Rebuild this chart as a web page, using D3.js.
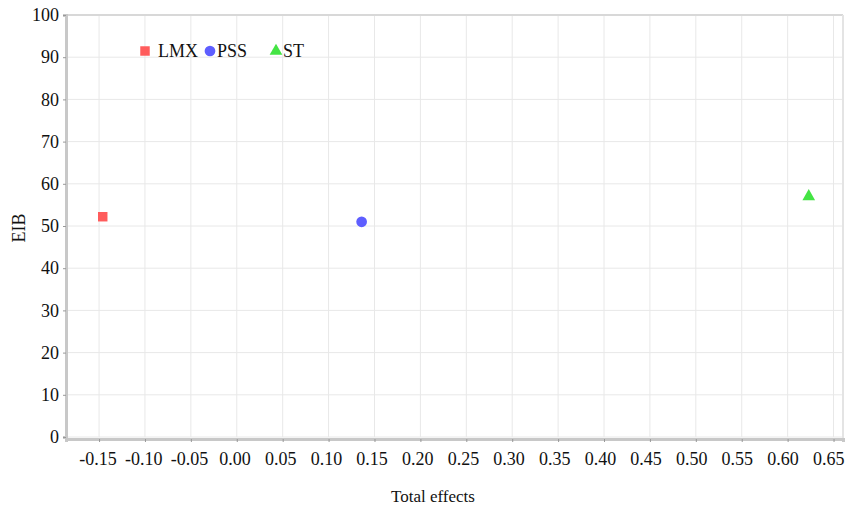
<!DOCTYPE html>
<html>
<head>
<meta charset="utf-8">
<script src="https://cdn.jsdelivr.net/npm/d3@7"></script>
<style>
  body { margin: 0; background: #fff; }
</style>
</head>
<body>
<script>
// data
const series = ["LMX", "PSS", "ST"];
const totalEffects = [-0.146, 0.136, 0.623];
const eib = [52.2, 51.0, 57.0];
const colors = ["#ff5c5c", "#5e5eff", "#44e444"];
const shapes = [d3.symbolSquare, d3.symbolCircle, d3.symbolTriangle];
const xTicks = [-0.15, -0.10, -0.05, 0.00, 0.05, 0.10, 0.15, 0.20, 0.25, 0.30, 0.35, 0.40, 0.45, 0.50, 0.55, 0.60, 0.65];
const yTicks = [0, 10, 20, 30, 40, 50, 60, 70, 80, 90, 100];

const serif = "'Liberation Serif', 'Times New Roman', Times, 'DejaVu Serif', serif";

// dimensions
const dms = { width: 847, height: 508, left: 66, right: 843, top: 15, bottom: 437 };

const svg = d3.select("body").append("svg")
    .attr("width", dms.width)
    .attr("height", dms.height)
    .style("font-family", serif);

// scales
const x = d3.scaleLinear().domain([-0.186, 0.6603]).range([dms.left, dms.right]);
const y = d3.scaleLinear().domain([0, 100]).range([dms.bottom, dms.top]);

// grid
svg.append("g").selectAll("line").data(xTicks).join("line")
    .attr("x1", d => x(d)).attr("x2", d => x(d))
    .attr("y1", dms.top).attr("y2", dms.bottom)
    .attr("stroke", "#e8e8e8").attr("stroke-width", 1);
svg.append("g").selectAll("line").data(yTicks).join("line")
    .attr("x1", dms.left).attr("x2", dms.right)
    .attr("y1", d => y(d)).attr("y2", d => y(d))
    .attr("stroke", "#e8e8e8").attr("stroke-width", 1);

// frame
svg.append("line").attr("x1", dms.left).attr("x2", dms.right)
    .attr("y1", dms.top).attr("y2", dms.top)
    .attr("stroke", "#d8d8d8").attr("stroke-width", 2);
svg.append("line").attr("x1", dms.right).attr("x2", dms.right)
    .attr("y1", dms.top).attr("y2", dms.bottom + 2)
    .attr("stroke", "#e4e4e4").attr("stroke-width", 2);

// axes
const xAxis = svg.append("g")
    .attr("transform", `translate(0,${dms.bottom + 2})`)
    .call(d3.axisBottom(x).tickValues(xTicks).tickFormat(d3.format(".2f")).tickSize(3).tickPadding(10));
const yAxis = svg.append("g")
    .attr("transform", `translate(${dms.left},0)`)
    .call(d3.axisLeft(y).tickValues(yTicks).tickSize(3).tickPadding(4));

[xAxis, yAxis].forEach(a => {
    a.attr("font-family", serif).attr("font-size", 18);
    a.select(".domain").attr("stroke", "#c8c8c8").attr("stroke-width", 3);
    a.selectAll(".tick line").attr("stroke", "#999");
    a.selectAll(".tick text").attr("fill", "#111")
        .style("font-family", serif).style("font-size", "18px");
});
xAxis.selectAll(".tick text")
    .text(d => d3.format(".2f")(d).replace("−", "-"))
    .attr("dx", (d, i) => -1.5 - 0.24 * i);

// axis titles
svg.append("text")
    .attr("x", 433).attr("y", 502)
    .attr("text-anchor", "middle")
    .style("font-family", serif)
    .style("font-size", "17px")
    .attr("fill", "#111")
    .text("Total effects");
svg.append("text")
    .attr("transform", `translate(25,228) rotate(-90)`)
    .attr("text-anchor", "middle")
    .style("font-family", serif)
    .style("font-size", "18px")
    .attr("fill", "#111")
    .text("EIB");

// points
svg.append("g").selectAll("path").data(series).join("path")
    .attr("transform", (d, i) => `translate(${x(totalEffects[i])},${y(eib[i])})`)
    .attr("d", (d, i) => d3.symbol().type(shapes[i]).size(i === 2 ? 70 : 90)())
    .attr("fill", (d, i) => colors[i]);

// legend
const legendX = [145, 210, 276];
const legendText = [158, 217, 283];
const legend = svg.append("g").selectAll("g").data(series).join("g");
legend.append("path")
    .attr("transform", (d, i) => `translate(${legendX[i]},51)`)
    .attr("d", (d, i) => d3.symbol().type(shapes[i]).size(i === 2 ? 70 : 90)())
    .attr("fill", (d, i) => colors[i]);
legend.append("text")
    .attr("x", (d, i) => legendText[i])
    .attr("y", 57)
    .style("font-family", serif)
    .style("font-size", "18px")
    .attr("fill", "#111")
    .text(d => d);
</script>
</body>
</html>
